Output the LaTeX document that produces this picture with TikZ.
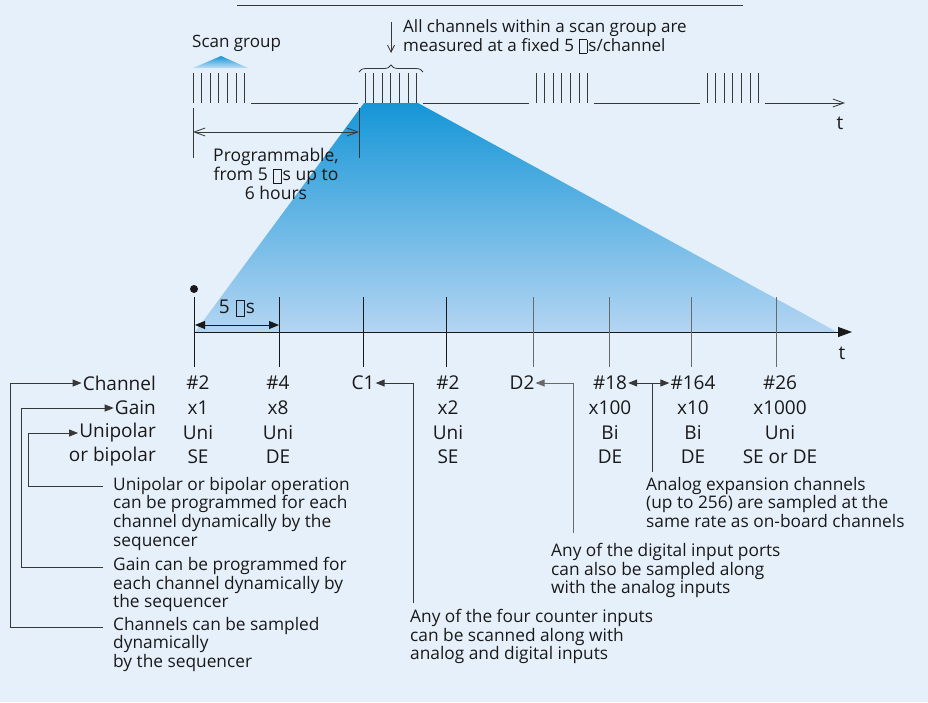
\documentclass[tikz,border=0pt]{standalone}
\usepackage{fontspec}
\setmainfont{Open Sans}
\usetikzlibrary{arrows.meta, positioning, decorations.pathreplacing}

\definecolor{bgblue}{RGB}{230,240,250}
\definecolor{fandark}{RGB}{22,150,215}
\definecolor{fanlight}{RGB}{180,213,242}
\definecolor{ink}{RGB}{25,25,25}
\definecolor{rulegray}{RGB}{55,55,55}
\definecolor{softgray}{RGB}{105,105,105}

% empty glyph box, as printed in place of the micro sign
\newcommand{\tofu}{\kern0.06em{\setlength{\fboxsep}{0pt}\setlength{\fboxrule}{0.45pt}\raisebox{-0.12em}{\fbox{\rule{0pt}{0.78em}\hspace{0.42em}}}}\kern0.06em}

\begin{document}
\begin{tikzpicture}[
        x=1pt, y=-1pt,
        tick/.style={draw=rulegray, line width=0.9pt},
        slot/.style={draw=rulegray, line width=0.9pt},
        rowtxt/.style={inner sep=1pt, text=ink, font=\fontsize{19}{24}\selectfont},
        cell/.style={rowtxt, anchor=center},
        note/.style={inner sep=0pt, anchor=north west, align=left, text=ink, font=\fontsize{17.3}{18.6}\selectfont},
        toptxt/.style={inner sep=0pt, text=ink, align=left, font=\fontsize{17}{19}\selectfont},
        ptr/.style={draw=rulegray, line width=0.9pt, -{Triangle[length=9pt,width=7pt]}},
        barb/.style={draw=rulegray, line width=0.8pt, -{Straight Barb[length=11pt,width=8pt]}},
        ]

        % background and frame
        \fill[bgblue] (0,0) rectangle (928,702);
        \draw[rulegray, line width=1pt] (237,5) -- (743,5);

        % Zoomed fan from the second scan group down to the time axis
        \shade[top color=fandark, bottom color=fanlight] (364,103) -- (418,103) -- (837,332) -- (195,332) -- cycle;
        \shade[top color=fandark, bottom color=fanlight!80!white] (221,56) -- (248,68) -- (193,68) -- cycle;

        % Scan groups (top time line)
        \foreach \gx in {193,365,536,707}{
            \foreach \k in {0,...,6}{
                \draw[tick] (\gx+8.6*\k,73) -- (\gx+8.6*\k,103);
            }
        }
        \draw[slot] (251,103) -- (358,103);
        \draw[slot] (423,103) -- (529,103);
        \draw[slot] (594,103) -- (700,103);
        \draw[barb] (765,103) -- (845,103);
        \node[rowtxt] (ttop) at (840,123) {t};

        \node[toptxt, anchor=west] (scangrp) at (192,43) {Scan group};
        \draw[rulegray, line width=0.8pt, decorate, decoration={brace, amplitude=7pt}] (359,72) -- (423,72);
        \node[toptxt, anchor=north west] (fixednote) at (403,19) {All channels within a scan group are\\measured at a fixed 5 \tofu s/channel};
        \draw[rulegray, line width=0.8pt, -{Straight Barb[length=7pt,width=7pt]}] (391,22) -- (391,53);

        % Programmable interval between scan groups
        \draw[tick] (193,108) -- (193,158);
        \draw[tick] (359,108) -- (359,158);
        \draw[barb, {Straight Barb[length=11pt,width=8pt]}-{Straight Barb[length=11pt,width=8pt]}] (193,132) -- (359,132);
        \node[toptxt, align=center, font=\fontsize{17.5}{19}\selectfont] (progtxt) at (276,174) {Programmable,\\from 5 \tofu s up to\\6 hours};

        % Channel time axis
        \draw[draw=ink, line width=1pt, -{Triangle[length=14pt,width=10pt]}] (194,332) -- (852,332);
        \fill[ink] (194,289) circle (4);
        \foreach \cx in {194,279,363,446}{
            \draw[draw=ink, line width=0.9pt] (\cx,297) -- (\cx,367);
        }
        \foreach \cx in {533,609,691,776}{
            \draw[draw=softgray, line width=1pt] (\cx,297) -- (\cx,367);
        }
        \draw[draw=ink, line width=0.9pt, {Triangle[length=10pt,width=8pt]}-{Triangle[length=10pt,width=8pt]}] (195,325) -- (279,325);
        \node[rowtxt] (fiveus) at (237,308) {5 \tofu s};
        \node[rowtxt] (tbot) at (842,353) {t};

        % Row labels
        \node[rowtxt, anchor=east] (chanlbl) at (157,383) {Channel};
        \node[rowtxt, anchor=east] (gainlbl) at (157,408) {Gain};
        \node[rowtxt, anchor=east] (pollbl) at (157,433) {Unipolar};
        \node[rowtxt, anchor=east] (modelbl) at (157,457) {or bipolar};

        % Channel row
        \node[cell] (ch1) at (198,383) {\#2};
        \node[cell] (ch2) at (278,383) {\#4};
        \node[cell] (ch3) at (363,383) {C1};
        \node[cell] (ch4) at (448,383) {\#2};
        \node[cell] (ch5) at (522,383) {D2};
        \node[cell] (ch6) at (610,383) {\#18};
        \node[cell] (ch7) at (693,383) {\#164};
        \node[cell] (ch8) at (780,383) {\#26};

        % Gain row
        \node[cell] (gn1) at (198,408) {x1};
        \node[cell] (gn2) at (278,408) {x8};
        \node[cell] (gn4) at (448,408) {x2};
        \node[cell] (gn6) at (610,408) {x100};
        \node[cell] (gn7) at (693,408) {x10};
        \node[cell] (gn8) at (780,408) {x1000};

        % Polarity row
        \node[cell] (pl1) at (198,433) {Uni};
        \node[cell] (pl2) at (278,433) {Uni};
        \node[cell] (pl4) at (448,433) {Uni};
        \node[cell] (pl6) at (610,433) {Bi};
        \node[cell] (pl7) at (693,433) {Bi};
        \node[cell] (pl8) at (780,433) {Uni};

        % Input mode row
        \node[cell] (md1) at (198,457) {SE};
        \node[cell] (md2) at (278,457) {DE};
        \node[cell] (md4) at (448,457) {SE};
        \node[cell] (md6) at (610,457) {DE};
        \node[cell] (md7) at (693,457) {DE};
        \node[cell] (md8) at (780,457) {SE or DE};

        % Notes
        \node[note] (polnote) at (113,477) {Unipolar or bipolar operation\\can be programmed for each\\channel dynamically by the\\sequencer};
        \node[note] (gainnote) at (113,557) {Gain can be programmed for\\each channel dynamically by\\the sequencer};
        \node[note] (channote) at (113,617) {Channels can be sampled\\dynamically\\by the sequencer};
        \node[note] (cntnote) at (410,609) {Any of the four counter inputs\\can be scanned along with\\analog and digital inputs};
        \node[note] (dignote) at (551,543) {Any of the digital input ports\\can also be sampled along\\with the analog inputs};
        \node[note] (expnote) at (646,477) {Analog expansion channels\\(up to 256) are sampled at the\\same rate as on-board channels};

        % Connectors from notes
        \coordinate (polfoot) at (103,486);
        \coordinate (gainfoot) at (103,567);
        \coordinate (chanfoot) at (103,627);
        \coordinate (cntfoot) at (413,603);
        \coordinate (digfoot) at (573,533);
        \coordinate (expfoot) at (652,472);

        \draw[ptr] (polfoot) -| ([xshift=-50pt]pollbl.west) -- (pollbl.west);
        \draw[ptr] (gainfoot) -| ([xshift=-92pt]gainlbl.west) -- (gainlbl.west);
        \draw[ptr] (chanfoot) -| ([xshift=-71pt]chanlbl.west) -- (chanlbl.west);
        \draw[ptr] (cntfoot) |- (ch3.east);
        \draw[ptr, draw=softgray] (digfoot) |- (ch5.east);
        \draw[ptr] (expfoot) |- (ch6.east);
        \draw[ptr] (expfoot) |- (ch7.west);

    \end{tikzpicture}
\end{document}
